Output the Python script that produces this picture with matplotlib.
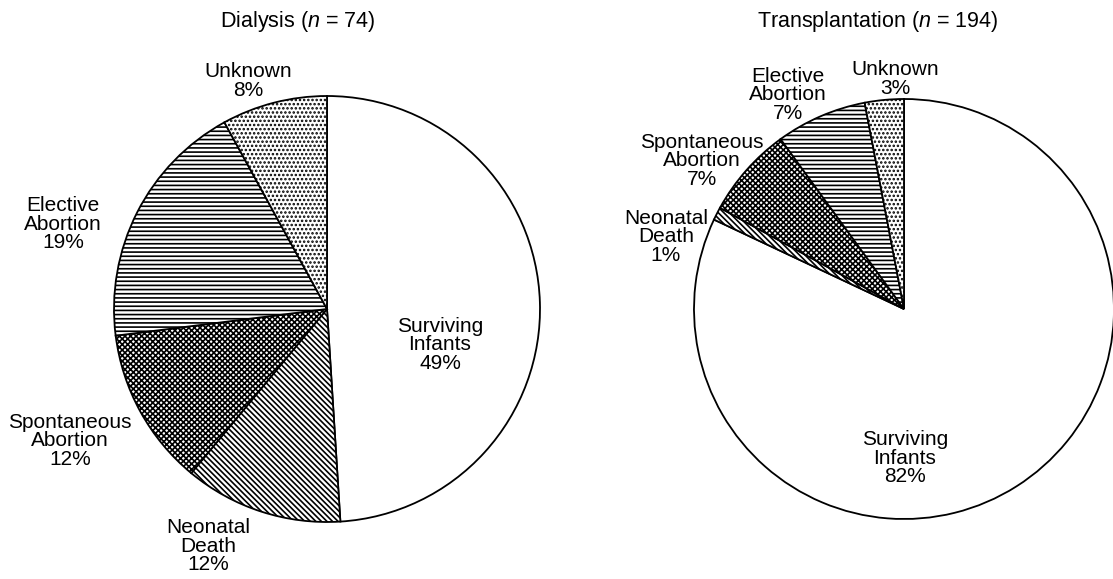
import matplotlib
matplotlib.use("Agg")
import matplotlib.pyplot as plt

plt.rcParams["font.family"] = ["Liberation Sans", "DejaVu Sans"]
plt.rcParams["mathtext.fontset"] = "custom"
plt.rcParams["mathtext.it"] = "Liberation Sans:italic"
plt.rcParams["mathtext.rm"] = "Liberation Sans"
plt.rcParams["hatch.linewidth"] = 1.2

# data
outcomes = ["Surviving\nInfants", "Neonatal\nDeath", "Spontaneous\nAbortion",
            "Elective\nAbortion", "Unknown"]
dialysis_pct = [49, 12, 12, 19, 8]
transplant_pct = [82, 1, 7, 7, 3]
dialysis_n = 74
transplant_n = 194

hatches = ["", "\\" * 6, "x" * 6, "-" * 4, "." * 4]

# label placement (pixel coords, y from top)
dial_label_xy = [(440, 345), (208, 546), (70, 441), (63, 224), (248, 81)]
trans_label_xy = [(905, 458), (666, 237), (702, 161), (788, 95), (895, 79)]

W, H = 1113, 579
fig = plt.figure(figsize=(W / 100, H / 100), dpi=100)
ax = fig.add_axes([0, 0, 1, 1])


def draw(vals, center, radius, labels_xy, title, title_x):
    wedges, _ = ax.pie(vals, center=center, radius=radius, startangle=90,
                       counterclock=False, colors=["white"] * len(vals),
                       wedgeprops=dict(edgecolor="black", linewidth=1.3),
                       frame=True)
    for w, h in zip(wedges, hatches):
        w.set_hatch(h)
    for name, v, (x, y) in zip(outcomes, vals, labels_xy):
        ax.text(x, H - y, f"{name}\n{v}%", ha="center", va="center",
                fontsize=15, linespacing=0.98)
    ax.text(title_x, H - 21, title, ha="center", va="center", fontsize=15.5)


draw(dialysis_pct, (327, H - 309), 213, dial_label_xy,
     f"Dialysis ($n$ = {dialysis_n})", 298)
draw(transplant_pct, (904, H - 309), 210, trans_label_xy,
     f"Transplantation ($n$ = {transplant_n})", 878)

ax.set_xlim(0, W)
ax.set_ylim(0, H)
ax.set_aspect("equal")
ax.axis("off")
fig.savefig("out.png", dpi=100)
plt.close(fig)
